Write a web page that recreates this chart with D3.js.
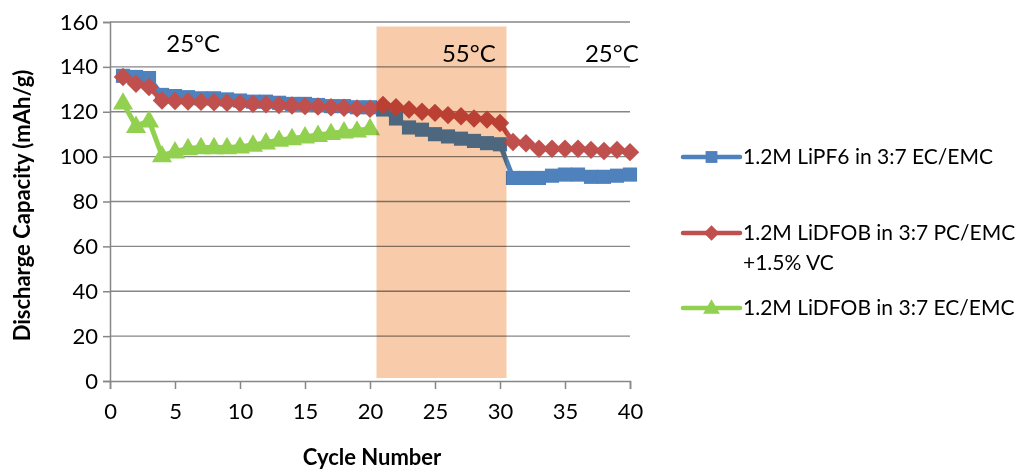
<!DOCTYPE html>
<html>
<head>
<meta charset="utf-8">
<script src="https://cdn.jsdelivr.net/npm/d3@7"></script>
<style>
  body { margin: 0; background: #fff; }
  text { font-family: Lato, "Noto Sans", sans-serif; fill: #000; }
</style>
</head>
<body>
<script>
var cycles = d3.range(1, 41);

var lipf6 = [136, 135.5, 135, 127.5, 127, 126.5, 126, 126, 125.5, 125,
             124.5, 124.5, 124, 123.5, 123.5, 123, 122.5, 122.5, 122, 122,
             121, 117, 113, 112, 110, 109, 108, 107, 106, 105.5,
             90.5, 90.5, 90.5, 91.5, 92, 92, 91, 91, 91.5, 92];

var lidfobPC = [135.5, 132.5, 131, 125, 124.8, 124.6, 124.4, 124.2, 124, 123.8,
                123.5, 123.3, 123, 122.8, 122.5, 122.3, 122, 121.8, 121.5, 121.3,
                123, 122, 121, 120, 119.5, 118.5, 118, 117, 116.5, 115,
                106.5, 106, 103.5, 103.5, 103.5, 103.5, 103, 102.5, 103, 102];

var lidfobEC = [124, 113.6, 116, 100.5, 102.2, 103.7, 104.1, 104.1, 104.1, 104.4,
                105.2, 106.2, 107.4, 108.1, 108.9, 109.6, 110.4, 111.1, 111.5, 112.6];

var yTicks = [0, 20, 40, 60, 80, 100, 120, 140, 160];
var xTicks = [0, 5, 10, 15, 20, 25, 30, 35, 40];

var seriesNames = ["1.2M LiPF6 in 3:7 EC/EMC", "1.2M LiDFOB in 3:7 PC/EMC", "1.2M LiDFOB in 3:7 EC/EMC"];
var seriesColors = ["#4F81BD", "#C0504D", "#92D050"];
var seriesShapes = ["square", "diamond", "triangle"];

var hotRange = [20.5, 30.5, 158];   // 55C window: from cycle, to cycle, top value
var tempLabels = [
    {text: "25°C", x: 6.4, y: 146.5},
    {text: "55°C", x: 27.6, y: 142},
    {text: "25°C", x: 38.6, y: 142}
];

var W = 1024, H = 470;

svg = d3.select("body").append("svg")
        .attr("width", W)
        .attr("height", H);

var x = d3.scaleLinear().domain([0, 40]).range([110, 630]);
var y = d3.scaleLinear().domain([0, 160]).range([381, 22]);

//gridlines
var grid = svg.append("g").attr("class", "grid");
grid.selectAll("line")
    .data(yTicks.filter(function(d){ return d > 0; }))
    .enter().append("line")
    .attr("x1", x(0)).attr("x2", x(40))
    .attr("y1", function(d){ return y(d); })
    .attr("y2", function(d){ return y(d); })
    .attr("stroke", "#868686")
    .attr("stroke-width", 1.3);

//axes
var yAxis = svg.append("g")
    .attr("transform", "translate(" + x(0) + ",0)")
    .call(d3.axisLeft(y).tickValues(yTicks).tickSize(7).tickPadding(5));
var xAxis = svg.append("g")
    .attr("transform", "translate(0," + y(0) + ")")
    .call(d3.axisBottom(x).tickValues(xTicks).tickSize(8).tickPadding(14));

[xAxis, yAxis].forEach(function(a){
    a.select(".domain").attr("stroke", "#868686").attr("stroke-width", 1.5);
    a.selectAll(".tick line").attr("stroke", "#868686").attr("stroke-width", 1.5);
    a.selectAll("text").style("font-size", "22px").attr("fill", "#000");
});

//series
var allSeries = [lipf6, lidfobPC, lidfobEC];
var squareDiamond = {
    draw: function(ctx, size) {
        var r = Math.sqrt(size / 2);
        ctx.moveTo(0, -r); ctx.lineTo(r, 0); ctx.lineTo(0, r); ctx.lineTo(-r, 0); ctx.closePath();
    }
};
var symbolTypes = {square: d3.symbolSquare, diamond: squareDiamond, triangle: d3.symbolTriangle};
var symbolSizes = {square: 200, diamond: 170, triangle: 175};

var line = d3.line()
    .x(function(d){ return x(d[0]); })
    .y(function(d){ return y(d[1]); });

var seriesGroup = svg.append("g").attr("class", "seriesGroup");
allSeries.forEach(function(vals, i){
    var pts = vals.map(function(v, k){ return [cycles[k], v]; });
    var g = seriesGroup.append("g");
    g.append("path")
        .datum(pts)
        .attr("d", line)
        .attr("fill", "none")
        .attr("stroke", seriesColors[i])
        .attr("stroke-width", 5)
        .attr("stroke-linejoin", "round");
    var sym = d3.symbol().type(symbolTypes[seriesShapes[i]]).size(symbolSizes[seriesShapes[i]]);
    g.selectAll("path.mk")
        .data(pts)
        .enter().append("path")
        .attr("class", "mk")
        .attr("d", sym)
        .attr("transform", function(d){
            var dy = seriesShapes[i] == "triangle" ? 1 : 0;
            return "translate(" + x(d[0]) + "," + (y(d[1]) + dy) + ")";
        })
        .attr("fill", seriesColors[i]);
});

//55C shaded window drawn on top, multiplied
svg.append("rect")
    .attr("x", x(hotRange[0]))
    .attr("width", x(hotRange[1]) - x(hotRange[0]))
    .attr("y", y(hotRange[2]))
    .attr("height", y(0) - y(hotRange[2]) - 3)
    .attr("fill", "#F8CCAA")
    .style("mix-blend-mode", "multiply");

//temperature labels
svg.selectAll("text.temp")
    .data(tempLabels)
    .enter().append("text")
    .attr("class", "temp")
    .attr("x", function(d){ return x(d.x); })
    .attr("y", function(d){ return y(d.y); })
    .attr("text-anchor", "middle")
    .style("font-size", "24px")
    .text(function(d){ return d.text; });

//axis titles
svg.append("text")
    .attr("transform", "translate(30," + ((y(0) + y(160)) / 2 + 4) + ") rotate(-90)")
    .attr("text-anchor", "middle")
    .style("font-size", "22px")
    .style("font-weight", "bold")
    .text("Discharge Capacity (mAh/g)");
svg.append("text")
    .attr("x", (x(0) + x(40)) / 2 + 2)
    .attr("y", 465)
    .attr("text-anchor", "middle")
    .style("font-size", "22px")
    .style("font-weight", "bold")
    .text("Cycle Number");

//legend
var legendY = [157, 233, 308];
var legend = svg.append("g").attr("class", "legend");
seriesNames.forEach(function(name, i){
    var g = legend.append("g").attr("transform", "translate(683," + legendY[i] + ")");
    g.append("line")
        .attr("x1", 0).attr("x2", 57)
        .attr("stroke", seriesColors[i])
        .attr("stroke-width", 4.5)
        .attr("stroke-linecap", "round");
    var sh = seriesShapes[i];
    g.append("path")
        .attr("d", d3.symbol().type(symbolTypes[sh]).size(symbolSizes[sh] * 0.7))
        .attr("transform", "translate(28.5," + (sh == "triangle" ? 1 : 0) + ")")
        .attr("fill", seriesColors[i]);
    g.append("text")
        .attr("x", 60)
        .attr("y", 7)
        .style("font-size", "21px")
        .text(name);
    if (i == 1) {
        g.append("text")
            .attr("x", 60)
            .attr("y", 37)
            .style("font-size", "21px")
            .text("+1.5% VC");
    }
});
</script>
</body>
</html>
